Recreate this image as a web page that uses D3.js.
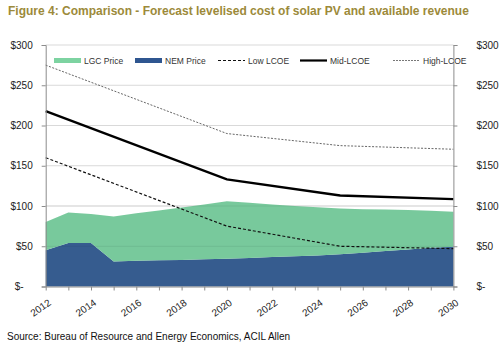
<!DOCTYPE html>
<html>
<head>
<meta charset="utf-8">
<script src="https://cdn.jsdelivr.net/npm/d3@7"></script>
<style>
  body { margin: 0; background: #fff; }
  svg { display: block; }
</style>
</head>
<body>
<div id="chart"></div>
<script>
// annual revenue series (stacked areas)
const years = [2012, 2013, 2014, 2015, 2016, 2017, 2018, 2019, 2020, 2021,
               2022, 2023, 2024, 2025, 2026, 2027, 2028, 2029, 2030]
const nemPrice = [45, 54, 54, 31, 32, 32.5, 33, 34, 34.5, 35.5,
                  36.5, 37.5, 38.5, 40, 42, 44, 46, 48, 49.5]
const lgcPrice = [35, 38, 36, 56, 59, 62, 65, 68, 71.5, 68.5,
                  65.5, 62.5, 60, 57, 54, 51.5, 49, 46, 43.5]

// levelised cost lines
const lcoeYears = [2012, 2020, 2025, 2030]
const lowLcoe = [160, 75, 50, 47]
const midLcoe = [218, 133, 113, 108.5]
const highLcoe = [275, 190, 175, 170.5]

const yTicks = [0, 50, 100, 150, 200, 250, 300]
const xTickLabels = [2012, 2014, 2016, 2018, 2020, 2022, 2024, 2026, 2028, 2030]

const title = "Figure 4: Comparison - Forecast levelised cost of solar PV and available revenue"
const source = "Source: Bureau of Resource and Energy Economics, ACIL Allen"

const width = 500
const height = 344
const margin = {top: 45, right: 46.6, bottom: 57.5, left: 45.7}

const green = "#6cc494"
const blue = "#365c8f"
const font = "'Liberation Sans', Arial, sans-serif"

const svg = d3.select("#chart").append("svg")
    .attr("width", width)
    .attr("height", height)

const x = d3.scaleLinear()
    .domain([2012, 2030])
    .range([margin.left, width - margin.right])

const y = d3.scaleLinear()
    .domain([0, 300])
    .range([height - margin.bottom, margin.top])

// title
svg.append("text")
    .attr("x", 8)
    .attr("y", 15)
    .attr("font-family", font)
    .attr("font-weight", "bold")
    .attr("font-size", 12)
    .attr("fill", "#9c8a3a")
    .text(title)

// gridlines
svg.append("g")
    .selectAll("line")
    .data(yTicks.filter(d => d > 0))
    .join("line")
    .attr("x1", x.range()[0])
    .attr("x2", x.range()[1])
    .attr("y1", d => y(d))
    .attr("y2", d => y(d))
    .attr("stroke", "#d9d9d9")
    .attr("stroke-width", 1)

// stacked areas
const rows = years.map((yr, i) => ({year: yr, nem: nemPrice[i], lgc: lgcPrice[i]}))
const stack = d3.stack().keys(["nem", "lgc"])(rows)

const area = d3.area()
    .x(d => x(d.data.year))
    .y0(d => y(d[0]))
    .y1(d => y(d[1]))

svg.append("g")
    .selectAll("path")
    .data(stack)
    .join("path")
    .attr("fill", d => d.key === "nem" ? blue : green)
    .attr("fill-opacity", d => d.key === "nem" ? 1 : 0.92)
    .attr("d", area)

// faint gridlines showing through the green area
svg.append("g")
    .selectAll("line")
    .data([50, 100])
    .join("line")
    .attr("x1", x.range()[0])
    .attr("x2", x.range()[1])
    .attr("y1", d => y(d))
    .attr("y2", d => y(d))
    .attr("stroke", "#000")
    .attr("stroke-opacity", 0.06)

// LCOE lines
const line = d3.line()
    .x((d, i) => x(lcoeYears[i]))
    .y(d => y(d))

const lcoeSeries = [
    {name: "Low LCOE", values: lowLcoe, stroke: "#111", width: 1.2, dash: "3,2"},
    {name: "Mid-LCOE", values: midLcoe, stroke: "#000", width: 2.4, dash: null},
    {name: "High-LCOE", values: highLcoe, stroke: "#555", width: 0.9, dash: "2,1.5"}
]

svg.append("g")
    .attr("fill", "none")
    .selectAll("path")
    .data(lcoeSeries)
    .join("path")
    .attr("stroke", d => d.stroke)
    .attr("stroke-width", d => d.width)
    .attr("stroke-dasharray", d => d.dash)
    .attr("d", d => line(d.values))

// axes
const fmt = d => d === 0 ? "$-" : "$" + d

const leftAxis = svg.append("g")
    .attr("transform", `translate(${x.range()[0]},0)`)
    .call(d3.axisLeft(y).tickValues(yTicks).tickFormat(fmt).tickSize(4).tickPadding(9))

const rightAxis = svg.append("g")
    .attr("transform", `translate(${x.range()[1]},0)`)
    .call(d3.axisRight(y).tickValues(yTicks).tickFormat(fmt).tickSize(4).tickPadding(19))

for (const ax of [leftAxis, rightAxis]) {
    ax.select(".domain").attr("stroke", "#8c8c8c")
    ax.selectAll(".tick line").attr("stroke", "#8c8c8c")
    ax.selectAll("text")
        .attr("font-family", font)
        .attr("font-size", 10)
        .attr("fill", "#222")
}
// accounting style zero sits further left on the left axis
leftAxis.selectAll(".tick text").filter(d => d === 0).attr("dx", "-0.9em")

const bottomAxis = svg.append("g")
    .attr("transform", `translate(0,${y(0)})`)
    .call(d3.axisBottom(x).tickValues(years).tickFormat("").tickSize(4).tickSizeOuter(0))
bottomAxis.select(".domain").attr("stroke", "#8c8c8c")
bottomAxis.selectAll(".tick line").attr("stroke", "#8c8c8c")

svg.append("g")
    .selectAll("text")
    .data(xTickLabels)
    .join("text")
    .attr("transform", d => `translate(${x(d) + 2},${y(0) + 12}) rotate(-35)`)
    .attr("text-anchor", "end")
    .attr("dy", "0.7em")
    .attr("font-family", font)
    .attr("font-size", 10)
    .attr("fill", "#222")
    .text(d => d)

// legend
const legend = [
    {label: "LGC Price", x: 54, type: "box", color: "#7dd3a1"},
    {label: "NEM Price", x: 135, type: "box", color: "#2f5690"},
    {label: "Low LCOE", x: 218, type: "line", color: "#111", width: 1, dash: "3,2"},
    {label: "Mid-LCOE", x: 300, type: "line", color: "#000", width: 2.2, dash: null},
    {label: "High-LCOE", x: 393, type: "line", color: "#555", width: 0.8, dash: "2,1"}
]
const legY = 60.5

const lg = svg.append("g").attr("font-family", font).attr("font-size", 8.5).attr("fill", "#333")
    .selectAll("g")
    .data(legend)
    .join("g")

lg.filter(d => d.type === "box").append("rect")
    .attr("x", d => d.x)
    .attr("y", legY - 2.5)
    .attr("width", 27)
    .attr("height", 5)
    .attr("fill", d => d.color)

lg.filter(d => d.type === "line").append("line")
    .attr("x1", d => d.x)
    .attr("x2", d => d.x + 27)
    .attr("y1", legY)
    .attr("y2", legY)
    .attr("stroke", d => d.color)
    .attr("stroke-width", d => d.width)
    .attr("stroke-dasharray", d => d.dash)

lg.append("text")
    .attr("x", d => d.x + 30)
    .attr("y", legY + 3)
    .text(d => d.label)

// source
svg.append("text")
    .attr("x", 7)
    .attr("y", 340)
    .attr("font-family", font)
    .attr("font-size", 10)
    .attr("fill", "#111")
    .text(source)
</script>
</body>
</html>
